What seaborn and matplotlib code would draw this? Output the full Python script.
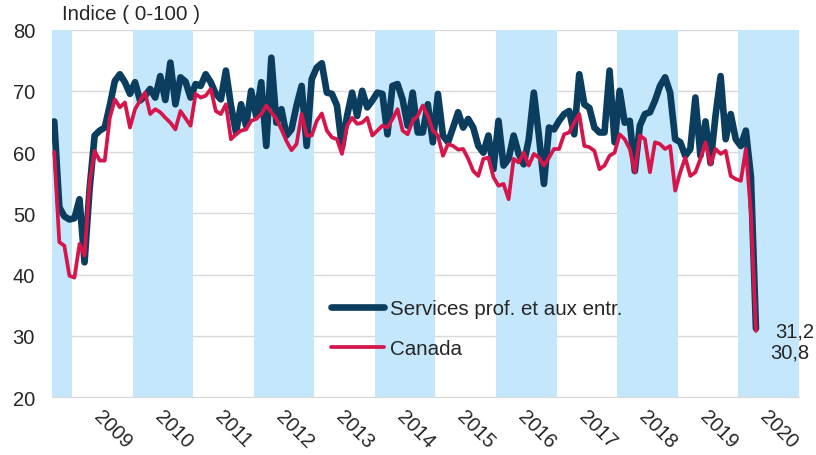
import numpy as np
import pandas as pd
import matplotlib.pyplot as plt
import seaborn as sns

# indices mensuels, septembre 2008 a avril 2020
services = [65.0, 51.0, 49.5, 49.0, 49.2, 52.3, 42.0, 54.0, 62.7, 63.5,
            64.0, 67.6, 71.6, 72.7, 71.4, 69.5, 71.4, 68.4, 69.2, 70.3,
            68.9, 72.4, 68.5, 74.6, 67.8, 72.2, 71.5, 68.9, 71.1, 70.8,
            72.7, 71.4, 69.5, 68.6, 73.3, 67.6, 63.2, 67.8, 64.3, 70.0,
            65.9, 71.4, 61.0, 75.4, 64.8, 67.0, 62.7, 63.7, 67.6, 70.8,
            61.0, 71.9, 73.8, 74.5, 69.7, 69.5, 67.6, 60.8, 65.9, 69.7,
            65.9, 70.0, 67.3, 68.4, 69.7, 69.5, 62.9, 70.8, 71.1, 68.6,
            64.3, 69.7, 63.2, 63.2, 67.8, 61.6, 69.5, 62.7, 61.6, 64.0,
            66.5, 64.0, 65.4, 64.0, 61.0, 59.9, 62.7, 57.2, 65.1, 57.8,
            58.9, 62.7, 59.7, 58.0, 62.1, 69.7, 62.7, 54.8, 64.0, 63.7,
            65.1, 66.2, 66.7, 62.9, 72.7, 67.8, 67.2, 64.0, 63.2, 63.2,
            73.3, 61.6, 70.0, 64.8, 65.1, 56.9, 64.3, 66.2, 66.5, 68.4,
            70.8, 72.2, 69.7, 62.1, 61.6, 59.4, 60.5, 68.9, 59.4, 65.0,
            58.2, 66.0, 72.4, 62.1, 66.2, 62.1, 61.0, 63.5, 56.0, 31.2]

canada = [60.0, 45.3, 44.7, 39.8, 39.5, 45.0, 43.1, 55.0, 60.2, 58.6,
          58.6, 65.6, 68.6, 67.3, 68.1, 64.0, 67.0, 68.4, 69.7, 66.2,
          67.0, 66.5, 65.6, 64.8, 63.7, 66.7, 65.5, 64.3, 69.5, 68.9,
          69.2, 70.3, 66.7, 66.2, 67.8, 62.1, 62.9, 63.5, 63.7, 65.1,
          65.4, 66.2, 67.6, 66.5, 65.4, 63.7, 61.8, 60.3, 61.3, 66.2,
          62.7, 62.7, 65.1, 66.3, 63.5, 62.4, 62.1, 59.7, 64.3, 65.6,
          64.6, 64.8, 65.6, 62.7, 63.5, 64.3, 64.0, 65.4, 67.0, 63.5,
          62.9, 65.1, 65.9, 67.6, 65.9, 63.5, 62.7, 59.4, 61.3, 61.0,
          60.4, 60.5, 58.9, 56.9, 56.1, 58.9, 59.1, 55.9, 54.5, 54.8,
          52.3, 58.9, 58.3, 59.9, 57.8, 59.7, 59.1, 57.8, 59.1, 60.5,
          60.5, 62.9, 63.2, 64.8, 66.2, 61.0, 60.8, 60.2, 57.2, 57.8,
          59.4, 59.9, 62.9, 62.1, 60.5, 56.7, 62.7, 62.1, 56.7, 61.6,
          61.3, 60.5, 61.0, 53.7, 56.7, 59.1, 56.1, 56.7, 58.9, 61.6,
          58.0, 60.5, 59.7, 60.2, 56.1, 55.6, 55.3, 60.5, 50.0, 30.8]

year_labels = list(range(2009, 2021))
shaded_years = [2008, 2010, 2012, 2014, 2016, 2018, 2020]

start = 2008 + 8 / 12
x = start + (np.arange(len(services)) + 0.5) / 12

df_s = pd.DataFrame({'x': x, 'val': services})
df_c = pd.DataFrame({'x': x, 'val': canada})

navy = '#0B3D5F'
red = '#D6154A'

sns.set_style('white')
plt.rcParams['font.family'] = ['Liberation Sans', 'DejaVu Sans']

fig, ax = plt.subplots(figsize=(8.16, 4.56), dpi=100)
fig.subplots_adjust(left=0.0634, right=0.979, bottom=0.127, top=0.933)

for y0 in shaded_years:
    ax.axvspan(max(y0, start), y0 + 1, color='#C4E7FB', lw=0, zorder=1)

sns.lineplot(data=df_s, x='x', y='val', ax=ax, color=navy, linewidth=4.8,
             solid_capstyle='round', solid_joinstyle='round',
             label='Services prof. et aux entr.', zorder=3)
sns.lineplot(data=df_c, x='x', y='val', ax=ax, color=red, linewidth=2.7,
             solid_capstyle='round', solid_joinstyle='round',
             label='Canada', zorder=4)

ax.set_xlim(start, 2021)
ax.set_ylim(20, 80)
ax.set_yticks(range(20, 81, 10))
ax.set_xticks([yr + 0.3 for yr in year_labels])
ax.set_xticklabels([str(yr) for yr in year_labels], rotation=-45, ha='left')
ax.set_xlabel('')
ax.set_ylabel('')
ax.yaxis.grid(True, color='#D9D9D9', lw=1)
ax.set_axisbelow(True)
ax.tick_params(axis='y', length=0, pad=12, labelsize=14.5)
ax.tick_params(axis='x', length=0, pad=7, labelsize=14.5)
for s in ['left', 'right', 'top']:
    ax.spines[s].set_visible(False)
ax.spines['bottom'].set_color('#D9D9D9')

ax.legend(loc='upper left', bbox_to_anchor=(331 / 816, 1 - 300 / 456),
          bbox_transform=fig.transFigure, frameon=False, fontsize=14.8,
          handlelength=2.6, handletextpad=0.25, labelspacing=1.03,
          borderpad=0, borderaxespad=0)

ax.annotate('31,2', xy=(x[-1], services[-1]), xytext=(14, -2),
            textcoords='offset points', va='center', ha='left', fontsize=14.5)
ax.annotate('30,8', xy=(x[-1], canada[-1]), xytext=(10, -15),
            textcoords='offset points', va='center', ha='left', fontsize=14.5)

fig.text(62 / 816, 1 - 15 / 456, 'Indice ( 0-100 )', fontsize=14.8, va='center')

fig.savefig('out.png', dpi=100)
